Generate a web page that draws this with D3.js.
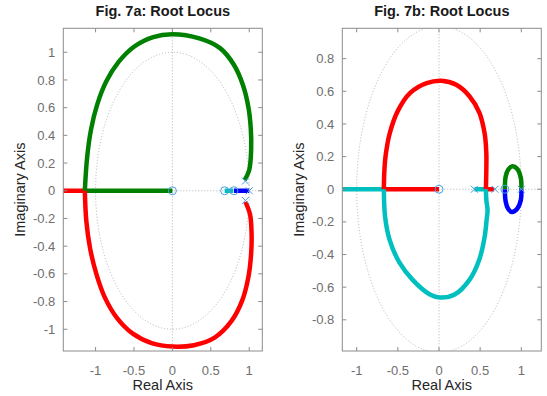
<!DOCTYPE html>
<html>
<head>
<meta charset="utf-8">
<script src="https://cdn.jsdelivr.net/npm/d3@7"></script>
<style>
  body { margin: 0; background: #fff; }
  svg { display: block; font-family: "Liberation Sans", Arial, sans-serif; }
</style>
</head>
<body>
<script>
var width = 547,
    height = 396;

// tick values
var xTicks = [-1, -0.5, 0, 0.5, 1];
var yTicksA = [-1, -0.8, -0.6, -0.4, -0.2, 0, 0.2, 0.4, 0.6, 0.8, 1];
var yTicksB = [-0.8, -0.6, -0.4, -0.2, 0, 0.2, 0.4, 0.6, 0.8];

// Fig 7a branches (real, imag)
var greenArcA = [[0.94, 0.077], [1.0, 0.15], [1.025, 0.3], [1.02, 0.45], [0.99, 0.6], [0.92, 0.76], [0.8, 0.91],
  [0.62, 1.03], [0.35, 1.1], [0, 1.13], [-0.25, 1.11], [-0.5, 1.04], [-0.7, 0.93], [-0.86, 0.79],
  [-0.98, 0.62], [-1.06, 0.44], [-1.11, 0.24], [-1.14, 0]];
var greenRealA = [[-1.14, 0], [0, 0]];
var redArcA = [[0.95, -0.08], [1.01, -0.17], [1.03, -0.3], [1.025, -0.45], [0.99, -0.62], [0.91, -0.79], [0.77, -0.94],
  [0.55, -1.06], [0.28, -1.115], [0, -1.125], [-0.27, -1.1], [-0.52, -1.03], [-0.72, -0.92], [-0.88, -0.77],
  [-0.99, -0.6], [-1.07, -0.42], [-1.12, -0.22], [-1.14, 0]];
var redRealA = [[-1.14, 0], [-1.6, 0]];
var cyanRealA = [[0.68, 0], [0.79, 0]];
var blueRealA = [[0.8, 0], [1.0, 0]];
var zerosA = [[0, 0], [0.68, 0], [0.8, 0]];
var polesA = [[0.95, 0.07], [0.95, -0.07], [1.0, 0]];

// Fig 7b branches
var redArcB = [[-0.67, 0], [-0.665, 0.1], [-0.65, 0.2], [-0.6, 0.34], [-0.5, 0.48], [-0.35, 0.59], [-0.15, 0.65],
  [0.03, 0.665], [0.21, 0.64], [0.37, 0.57], [0.49, 0.47], [0.555, 0.34], [0.575, 0.22], [0.575, 0.12], [0.57, 0]];
var redRealB1 = [[0, 0], [-0.67, 0]];
var redRealB2 = [[0.57, 0], [0.67, 0]];
var cyanArcB = [[-0.67, 0], [-0.655, -0.17], [-0.6, -0.31], [-0.48, -0.45], [-0.32, -0.555], [-0.11, -0.645],
  [0.01, -0.663], [0.19, -0.645], [0.37, -0.555], [0.49, -0.43], [0.555, -0.29], [0.58, -0.18], [0.59, -0.13],
  [0.575, -0.065], [0.57, 0]];
var cyanRealB1 = [[-0.67, 0], [-1.4, 0]];
var cyanRealB2 = [[0.57, 0], [0.43, 0]];
var greenB = [[0.8, 0], [0.81, 0.078], [0.84, 0.12], [0.885, 0.14], [0.95, 0.125], [0.995, 0.067], [1.0, 0]];
var blueB = [[0.8, 0], [0.81, -0.075], [0.84, -0.12], [0.885, -0.14], [0.95, -0.12], [0.995, -0.065], [1.0, 0]];
var zerosB = [[0, 0], [0.8, 0]];
var polesB = [[0.43, 0], [0.68, 0], [1.0, 0]];

var GREEN = "#008000", RED = "#ff0000", CYAN = "#00bfbf", BLUE = "#0000ff", MARK = "#4a9fe0";

var svg = d3.select("body")
    .append("svg")
    .attr("width", width)
    .attr("height", height);

var panels = [
  {
    id: "a", title: "Fig. 7a: Root Locus",
    left: 63.3, right: 262.3, top: 28.3, bottom: 351,
    xDomain: [-1.42, 1.17], yDomain: [-1.157, 1.173], yTicks: yTicksA, ylabX: 25,
    curves: [[greenArcA, GREEN], [redArcA, RED]],
    segs: [[greenRealA, GREEN], [redRealA, RED], [cyanRealA, CYAN], [blueRealA, BLUE]],
    zeros: zerosA, poles: polesA
  },
  {
    id: "b", title: "Fig. 7b: Root Locus",
    left: 342.3, right: 541.3, top: 28.3, bottom: 351,
    xDomain: [-1.175, 1.243], yDomain: [-0.991, 0.986], yTicks: yTicksB, ylabX: 304,
    curves: [[redArcB, RED], [cyanArcB, CYAN], [greenB, GREEN], [blueB, BLUE]],
    segs: [[redRealB1, RED], [redRealB2, RED], [cyanRealB1, CYAN], [cyanRealB2, CYAN]],
    zeros: zerosB, poles: polesB
  }
];

panels.forEach(function(p) {
  var x = d3.scaleLinear().domain(p.xDomain).range([p.left, p.right]);
  var y = d3.scaleLinear().domain(p.yDomain).range([p.bottom, p.top]);
  var g = svg.append("g");

  g.append("clipPath").attr("id", "clip" + p.id)
    .append("rect")
      .attr("x", p.left).attr("y", p.top)
      .attr("width", p.right - p.left).attr("height", p.bottom - p.top);

  var plot = g.append("g").attr("clip-path", "url(#clip" + p.id + ")");

  // unit circle and axes lines (dotted)
  plot.append("ellipse")
    .attr("cx", x(0)).attr("cy", y(0))
    .attr("rx", x(1) - x(0)).attr("ry", y(0) - y(1))
    .attr("fill", "none").attr("stroke", "#aaa")
    .attr("stroke-width", 0.9).attr("stroke-dasharray", "1,2");
  plot.append("line")
    .attr("x1", x(0)).attr("x2", x(0)).attr("y1", p.top).attr("y2", p.bottom)
    .attr("stroke", "#aaa").attr("stroke-width", 0.9).attr("stroke-dasharray", "1,2");
  plot.append("line")
    .attr("x1", p.left).attr("x2", p.right).attr("y1", y(0)).attr("y2", y(0))
    .attr("stroke", "#aaa").attr("stroke-width", 0.9).attr("stroke-dasharray", "1,2");

  var curve = d3.line()
    .x(function(d) { return x(d[0]); })
    .y(function(d) { return y(d[1]); })
    .curve(d3.curveCatmullRom.alpha(0.5));
  var straight = d3.line()
    .x(function(d) { return x(d[0]); })
    .y(function(d) { return y(d[1]); });

  p.segs.forEach(function(s) {
    plot.append("path").attr("d", straight(s[0]))
      .attr("fill", "none").attr("stroke", s[1]).attr("stroke-width", 4.5);
  });
  p.curves.forEach(function(c) {
    plot.append("path").attr("d", curve(c[0]))
      .attr("fill", "none").attr("stroke", c[1]).attr("stroke-width", 4.5)
      .attr("stroke-linejoin", "round");
  });

  // zeros and poles
  plot.selectAll(".zero").data(p.zeros).enter().append("circle")
    .attr("cx", function(d) { return x(d[0]); })
    .attr("cy", function(d) { return y(d[1]); })
    .attr("r", 4).attr("fill", "none").attr("stroke", MARK).attr("stroke-width", 1);
  plot.selectAll(".pole").data(p.poles).enter().append("path")
    .attr("d", function(d) {
      var cx = x(d[0]), cy = y(d[1]), s = 3.5;
      return "M" + (cx - s) + "," + (cy - s) + "L" + (cx + s) + "," + (cy + s) +
             "M" + (cx - s) + "," + (cy + s) + "L" + (cx + s) + "," + (cy - s);
    })
    .attr("stroke", MARK).attr("stroke-width", 1);

  // box
  g.append("rect")
    .attr("x", p.left).attr("y", p.top)
    .attr("width", p.right - p.left).attr("height", p.bottom - p.top)
    .attr("fill", "none").attr("stroke", "#8c8c8c").attr("stroke-width", 1);

  // ticks inside on all sides
  var tl = 4;
  xTicks.forEach(function(t) {
    g.append("line").attr("x1", x(t)).attr("x2", x(t)).attr("y1", p.bottom).attr("y2", p.bottom - tl)
      .attr("stroke", "#8c8c8c");
    g.append("line").attr("x1", x(t)).attr("x2", x(t)).attr("y1", p.top).attr("y2", p.top + tl)
      .attr("stroke", "#8c8c8c");
    g.append("text").attr("x", x(t)).attr("y", 375)
      .attr("text-anchor", "middle").attr("font-size", "13px").attr("fill", "#6e6e6e")
      .text(t);
  });
  p.yTicks.forEach(function(t) {
    g.append("line").attr("x1", p.left).attr("x2", p.left + tl).attr("y1", y(t)).attr("y2", y(t))
      .attr("stroke", "#8c8c8c");
    g.append("line").attr("x1", p.right).attr("x2", p.right - tl).attr("y1", y(t)).attr("y2", y(t))
      .attr("stroke", "#8c8c8c");
    g.append("text").attr("x", p.left - 8).attr("y", y(t)).attr("dy", "0.35em")
      .attr("text-anchor", "end").attr("font-size", "13px").attr("fill", "#6e6e6e")
      .text(t);
  });

  g.append("text")
    .attr("x", (p.left + p.right) / 2).attr("y", 16)
    .attr("text-anchor", "middle").attr("font-size", "14.5px").attr("font-weight", "bold")
    .attr("fill", "#1a1a1a").text(p.title);
  g.append("text")
    .attr("x", (p.left + p.right) / 2).attr("y", 390)
    .attr("text-anchor", "middle").attr("font-size", "14.5px").attr("fill", "#262626")
    .text("Real Axis");
  g.append("text")
    .attr("transform", "translate(" + p.ylabX + "," + ((p.top + p.bottom) / 2) + ") rotate(-90)")
    .attr("text-anchor", "middle").attr("font-size", "14.5px").attr("fill", "#262626")
    .text("Imaginary Axis");
});
</script>
</body>
</html>
